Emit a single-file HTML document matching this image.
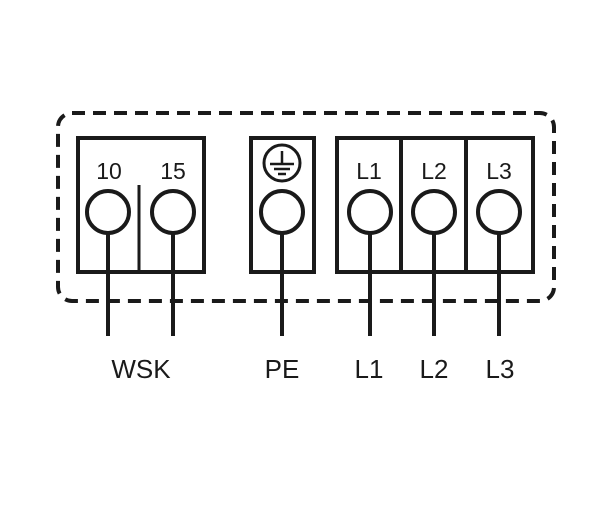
<!DOCTYPE html>
<html><head><style>body{margin:0;background:#fff}</style></head><body>
<svg width="612" height="500" xmlns="http://www.w3.org/2000/svg" font-family="Liberation Sans, DejaVu Sans, sans-serif">
<rect width="612" height="500" fill="#fff"/>
<g fill="none" stroke="#1a1a1a" stroke-width="4">
<rect x="58" y="113" width="496" height="188" rx="14" stroke-dasharray="13,8"/>
<rect x="78" y="138" width="126" height="134" fill="#fff"/>
<line x1="139" y1="185" x2="139" y2="272" stroke-width="3"/>
<rect x="251" y="138" width="63" height="134" fill="#fff"/>
<rect x="337" y="138" width="196" height="134" fill="#fff"/>
<line x1="401" y1="138" x2="401" y2="272"/>
<line x1="466" y1="138" x2="466" y2="272"/>
<circle cx="108" cy="212" r="21"/>
<circle cx="173" cy="212" r="21"/>
<circle cx="282" cy="212" r="21"/>
<circle cx="370" cy="212" r="21"/>
<circle cx="434" cy="212" r="21"/>
<circle cx="499" cy="212" r="21"/>
<line x1="108" y1="233" x2="108" y2="336"/>
<line x1="173" y1="233" x2="173" y2="336"/>
<line x1="282" y1="233" x2="282" y2="336"/>
<line x1="370" y1="233" x2="370" y2="336"/>
<line x1="434" y1="233" x2="434" y2="336"/>
<line x1="499" y1="233" x2="499" y2="336"/>
<circle cx="282" cy="163" r="18" stroke-width="3"/>
<line x1="282" y1="151" x2="282" y2="164" stroke-width="2.5"/>
<line x1="270" y1="164" x2="294" y2="164" stroke-width="2.5"/>
<line x1="274" y1="169" x2="290" y2="169" stroke-width="2.5"/>
<line x1="278" y1="174" x2="286" y2="174" stroke-width="2.5"/>
</g>
<g fill="#1a1a1a" font-size="23" text-anchor="middle">
<text x="109" y="179">10</text>
<text x="173" y="179">15</text>
<text x="369" y="179">L1</text>
<text x="434" y="179">L2</text>
<text x="499" y="179">L3</text>
</g>
<g fill="#1a1a1a" font-size="26" text-anchor="middle">
<text x="141" y="378">WSK</text>
<text x="282" y="378">PE</text>
<text x="369" y="378">L1</text>
<text x="434" y="378">L2</text>
<text x="500" y="378">L3</text>
</g>
</svg>
</body></html>
